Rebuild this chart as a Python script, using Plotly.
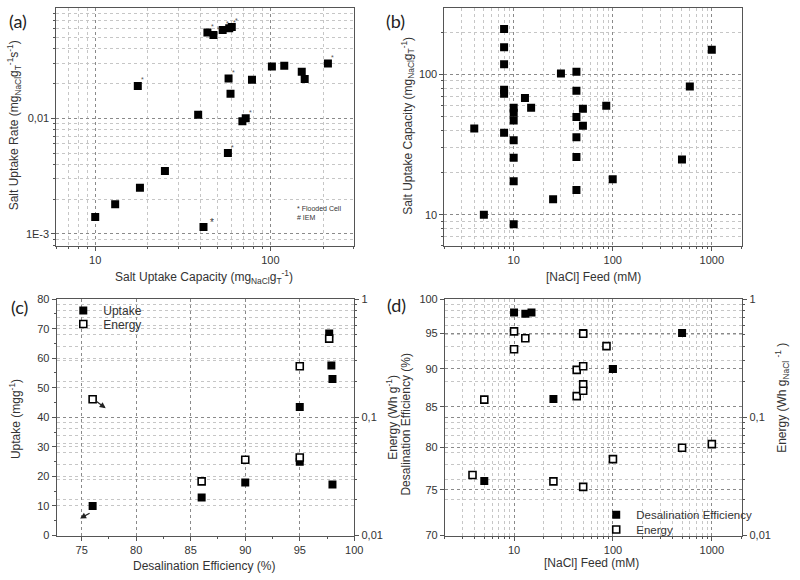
import plotly.graph_objects as go
import math

# ---------------- data ----------------
# (a) salt uptake rate vs capacity
a_capacity = [10, 13, 18, 25, 17.5, 38.7, 41.5, 43.7, 47.3, 53.4, 58.2, 60.2, 57.7, 59.2,
              57.2, 69.2, 72.3, 78.5, 102, 120, 151, 157, 213]
a_rate = [0.0014, 0.0018, 0.0025, 0.0035, 0.019, 0.0107, 0.00115, 0.055, 0.0523, 0.058,
          0.060, 0.0615, 0.022, 0.0163, 0.005, 0.0094, 0.010, 0.0215, 0.028, 0.0284,
          0.0252, 0.0218, 0.0297]
a_notes = ["", "", "", "", "*", "", "*", "*", "*", "*", "*", "*", "*", "", "*", "", "*",
           "", "", "", "", "", "*"]

# (b) capacity vs feed concentration
b_feed = [4, 5, 8, 8, 8, 8, 8, 8, 10, 10, 10, 10, 10, 10, 10, 13, 15, 25, 30, 43, 43, 43,
          43, 43, 43, 50, 50, 86, 100, 500, 600, 1000]
b_capacity = [41.1, 10, 211, 156, 118, 77.6, 72.8, 38.4, 57.8, 53.3, 46.9, 33.9, 25.5, 17.3,
              8.55, 68, 57.8, 12.9, 101.6, 104.4, 76.4, 49.7, 35.6, 25.8, 15, 56.9, 43,
              59.7, 17.9, 24.8, 82, 150]

# (c) uptake / energy vs desalination efficiency
c_eff_uptake = [76, 86, 90, 95, 95, 97.7, 97.9, 98, 98]
c_uptake = [10, 12.9, 17.9, 43.5, 25, 68.4, 57.5, 53, 17.3]
c_eff_energy = [76, 86, 90, 95, 95, 97.7]
c_energy = [0.142, 0.0287, 0.0438, 0.270, 0.0457, 0.463]

# (d) desalination efficiency / energy vs feed
d_feed_eff = [5, 10, 13, 15, 25, 50, 100, 500]
d_eff = [76, 98, 97.8, 98, 86, 95, 90, 95]
d_feed_energy = [3.8, 5, 10, 10, 13, 25, 43, 43, 50, 50, 50, 50, 50, 86, 100, 500, 1000]
d_energy = [0.0325, 0.141, 0.533, 0.377, 0.467, 0.0287, 0.252, 0.151, 0.509, 0.270, 0.190,
            0.168, 0.0258, 0.400, 0.0443, 0.0553, 0.0593]

# ---------------- styling helpers ----------------
W, H = 800, 580
TXT = "#333333"
LINE = "#555555"
MAJ = "#8a8a8a"
MIN = "#c6c6c6"
FONT = "Arial"


def px(x):
    return x / W


def py(y):
    return 1 - y / H


def log_minor(lo_exp, hi_exp):
    return [k * 10 ** e for e in range(lo_exp, hi_exp + 1) for k in range(2, 10)]


def log_axis(rng, tickvals, ticktext, minorvals, domain, anchor, **kw):
    d = dict(type="log", range=[math.log10(rng[0]), math.log10(rng[1])], domain=domain,
             anchor=anchor, tickmode="array", tickvals=tickvals, ticktext=ticktext,
             ticks="outside", ticklen=4, tickcolor=LINE, showline=True, linecolor=LINE,
             linewidth=1, showgrid=True, gridcolor=MAJ, griddash="dot", gridwidth=1,
             zeroline=False, tickfont=dict(size=11, color=TXT, family=FONT),
             minor=dict(tickmode="array", tickvals=minorvals, ticks="outside", ticklen=2,
                        tickcolor=LINE, showgrid=True, gridcolor=MIN, griddash="dot",
                        gridwidth=1))
    d.update(kw)
    return d


fig = go.Figure()

filled = dict(symbol="square", size=8, color="black", line=dict(width=0))
opened = dict(symbol="square", size=7, color="white", line=dict(width=1.6, color="black"))

# (a)
fig.add_trace(go.Scatter(x=a_capacity, y=a_rate, mode="markers", marker=filled,
                         xaxis="x", yaxis="y", showlegend=False))
# (b)
fig.add_trace(go.Scatter(x=b_feed, y=b_capacity, mode="markers", marker=filled,
                         xaxis="x2", yaxis="y2", showlegend=False))
# (c)
fig.add_trace(go.Scatter(x=c_eff_uptake, y=c_uptake, mode="markers", marker=filled,
                         name="Uptake", xaxis="x3", yaxis="y3", legend="legend"))
fig.add_trace(go.Scatter(x=c_eff_energy, y=c_energy, mode="markers", marker=opened,
                         name="Energy", xaxis="x3", yaxis="y5", legend="legend2"))
# (d)
fig.add_trace(go.Scatter(x=d_feed_eff, y=d_eff, mode="markers", marker=filled,
                         name="Desalination Efficiency", xaxis="x4", yaxis="y4",
                         legend="legend3"))
fig.add_trace(go.Scatter(x=d_feed_energy, y=d_energy, mode="markers", marker=opened,
                         name="Energy", xaxis="x4", yaxis="y6", legend="legend4"))

# domains (reference page pixels)
dxa = [px(57), px(358)]
dxb = [px(449.5), px(750.7)]
dya = [py(245), py(2.5)]
dxc = [px(57.3), px(358.3)]
dxd = [px(450), px(750.7)]
dyc = [py(540.7), py(299.3)]


def leg(x, y, size):
    return dict(x=px(x), y=py(y), xanchor="left", yanchor="middle",
                bgcolor="rgba(0,0,0,0)", borderwidth=0,
                font=dict(size=size, color=TXT, family=FONT), itemsizing="trace")


layout = dict(
    width=W, height=H, margin=dict(l=0, r=0, t=0, b=0),
    paper_bgcolor="white", plot_bgcolor="white",
    font=dict(family=FONT, color=TXT, size=11),
    xaxis=log_axis([6.0, 300], [10, 100], ["10", "100"], log_minor(0, 2), dxa, "y",
                   mirror=True),
    yaxis=log_axis([0.000787, 0.0889], [0.001, 0.01], ["1E-3", "0,01"], log_minor(-4, -2),
                   dya, "x", mirror=True),
    xaxis2=log_axis([2, 2030], [10, 100, 1000], ["10", "100", "1000"], log_minor(0, 3),
                    dxb, "y2", mirror=True),
    yaxis2=log_axis([6.0, 295], [10, 100], ["10", "100"], log_minor(0, 2), dya,
                    "x2", mirror=True),
    xaxis3=dict(range=[72.7, 100], domain=dxc, anchor="y3", tick0=75, dtick=5,
                ticks="outside", ticklen=4, tickcolor=LINE, showline=True, linecolor=LINE,
                mirror=True, showgrid=True, gridcolor=MAJ, griddash="dot", zeroline=False,
                tickfont=dict(size=11, color=TXT, family=FONT),
                minor=dict(dtick=2.5, tick0=72.5, ticks="outside", ticklen=2, tickcolor=LINE,
                           showgrid=False)),
    yaxis3=dict(range=[0, 80], domain=dyc, anchor="x3", dtick=10, ticks="outside",
                ticklen=4, tickcolor=LINE, showline=True, linecolor=LINE, mirror=True,
                showgrid=True, gridcolor=MIN, griddash="dot", zeroline=False,
                tickfont=dict(size=11, color=TXT, family=FONT),
                minor=dict(dtick=5, ticks="outside", ticklen=2, tickcolor=LINE,
                           showgrid=False)),
    yaxis5=log_axis([0.01, 1], [0.01, 0.1, 1], ["0,01", "0,1", "1"], log_minor(-2, -1),
                    dyc, "x3", overlaying="y3", side="right"),
    xaxis4=log_axis([2, 2030], [10, 100, 1000], ["10", "100", "1000"], log_minor(0, 3),
                    dxd, "y4", mirror=True),
    yaxis4=log_axis([70, 100], [70, 75, 80, 85, 90, 95, 100],
                    ["70", "75", "80", "85", "90", "95", "100"], [], dyc, "x4",
                    mirror=True),
    yaxis6=log_axis([0.01, 1], [0.01, 0.1, 1], ["0,01", "0,1", "1"], log_minor(-2, -1),
                    dyc, "x4", overlaying="y4", side="right"),
    legend=leg(64, 311, 12),
    legend2=leg(64, 324.7, 12),
    legend3=leg(603, 519.5, 11.5),
    legend4=leg(603, 534.5, 11.5),
)
fig.update_layout(**layout)

ann = []

# asterisk notes in (a)
big_idx = a_rate.index(min(a_rate))
for i, (xv, yv, note) in enumerate(zip(a_capacity, a_rate, a_notes)):
    if not note:
        continue
    if i == big_idx:
        ann.append(dict(x=math.log10(xv), y=math.log10(yv), xref="x", yref="y", text=note,
                        showarrow=False, xshift=9, yshift=4, font=dict(size=10, color=TXT)))
    else:
        ann.append(dict(x=math.log10(xv), y=math.log10(yv), xref="x", yref="y", text=note,
                        showarrow=False, xshift=5, yshift=6, font=dict(size=7, color="#555")))

ann.append(dict(x=px(298), y=py(207), xref="paper", yref="paper", xanchor="left",
                yanchor="middle", text="* Flooded Cell", showarrow=False,
                font=dict(size=7, color=TXT)))
ann.append(dict(x=px(298), y=py(216), xref="paper", yref="paper", xanchor="left",
                yanchor="middle", text="# IEM", showarrow=False, font=dict(size=7, color=TXT)))

# arrows in (c)
ann.append(dict(x=77.2, y=43.1, xref="x3", yref="y3", ax=-11, ay=-8, text="",
                showarrow=True, arrowhead=2, arrowsize=1, arrowwidth=1.2, arrowcolor="#222"))
ann.append(dict(x=74.85, y=5.8, xref="x3", yref="y3", ax=11, ay=-6, text="",
                showarrow=True, arrowhead=2, arrowsize=1, arrowwidth=1.2, arrowcolor="#222"))

# panel labels
for lab, x, y in [("(a)", 18, 15), ("(b)", 400, 15), ("(c)", 20, 307), ("(d)", 401, 305)]:
    ann.append(dict(x=px(x), y=py(y), xref="paper", yref="paper", text=lab,
                    xanchor="center", yanchor="middle", showarrow=False,
                    font=dict(size=18, color="#222", family="Lato")))

# axis titles
TF = dict(size=12, color=TXT, family=FONT)
titles = [
    ("Salt Uptake Capacity (mg<sub>NaCl</sub>g<sub>T</sub><sup>-1</sup>)", 206, 277, 0),
    ("[NaCl] Feed (mM)", 600, 277, 0),
    ("Desalination Efficiency (%)", 207, 572, 0),
    ("[NaCl] Feed (mM)", 598, 569, 0),
    ("Salt Uptake Rate (mg<sub>NaCl</sub>g<sub>T</sub><sup>-1</sup>s<sup>-1</sup>)", 15, 122, -90),
    ("Salt Uptake Capacity (mg<sub>NaCl</sub>g<sub>T</sub><sup>-1</sup>)", 413, 122, -90),
    ("Uptake (mgg<sup>-1</sup>)", 15, 422, -90),
    ("Energy (Wh g<sup>-1</sup>)", 397, 420, -90),
    ("Desalination Efficiency (%)", 411, 427, -90),
    ("Energy (Wh g<sub>NaCl</sub> <sup>-1</sup> )", 791, 400, -90),
]
for t, x, y, ang in titles:
    ann.append(dict(x=px(x), y=py(y), xref="paper", yref="paper", text=t, showarrow=False,
                    textangle=ang, font=TF, xanchor="center", yanchor="middle"))

fig.update_layout(annotations=ann)
fig.write_html("out.html", config={"displayModeBar": False},
               post_script="document.body.style.margin='0';")
